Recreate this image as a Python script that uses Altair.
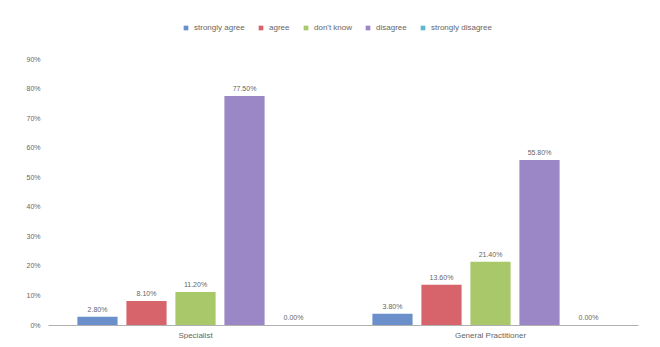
import altair as alt
import pandas as pd

groups = ["Specialist", "General Practitioner"]
responses = ["strongly agree", "agree", "don't know", "disagree", "strongly disagree"]
specialist = [0.028, 0.081, 0.112, 0.775, 0.0]
gp = [0.038, 0.136, 0.214, 0.558, 0.0]
colors = ["#6A8FCB", "#D6646A", "#A8C86A", "#9B86C6", "#5FB8CF"]
y_ticks = [0, 0.1, 0.2, 0.3, 0.4, 0.5, 0.6, 0.7, 0.8, 0.9]

rows = []
for g, vals in zip(groups, [specialist, gp]):
    for r, v in zip(responses, vals):
        rows.append({"group": g, "response": r, "value": v})
df = pd.DataFrame(rows)

font = "Liberation Sans"

x = alt.X("group:N", sort=groups, title=None,
          scale=alt.Scale(paddingInner=0, paddingOuter=0),
          axis=alt.Axis(labelAngle=0, ticks=False, domainColor="#b0b0b0",
                        labelFontSize=8, labelColor="#666", labelPadding=6, labelFont=font))
xo = alt.XOffset("response:N", sort=responses,
                 scale=alt.Scale(paddingInner=0.18, paddingOuter=0.6))
y = alt.Y("value:Q", title=None,
          scale=alt.Scale(domain=[0, 0.9], nice=False),
          axis=alt.Axis(values=y_ticks, format=".0%", grid=False, domain=False, ticks=False,
                        labelFontSize=7, labelColor="#666", labelPadding=8, labelFont=font))

base = alt.Chart(df)
bars = base.mark_bar().encode(
    x=x, xOffset=xo, y=y,
    color=alt.Color("response:N", sort=responses,
                    scale=alt.Scale(domain=responses, range=colors),
                    legend=alt.Legend(title=None, orient="none", direction="horizontal",
                                      legendX=134, legendY=-35, symbolType="square",
                                      symbolSize=22, labelFontSize=8, labelColor="#666",
                                      labelFont=font, columnPadding=12, symbolStrokeWidth=0)),
)
labels = base.mark_text(dy=-7, fontSize=7, color="#666", font=font).encode(
    x=x, xOffset=xo, y=y, text=alt.Text("value:Q", format=".2%"))

chart = (bars + labels).properties(
    width=590, height=266,
    background="white",
    autosize=alt.AutoSizeParams(type="none"),
    padding={"left": 40, "top": 51, "right": 14, "bottom": 14},
).configure_view(strokeWidth=0)

chart.save("out.html", embed_options={"renderer": "svg", "actions": False})
